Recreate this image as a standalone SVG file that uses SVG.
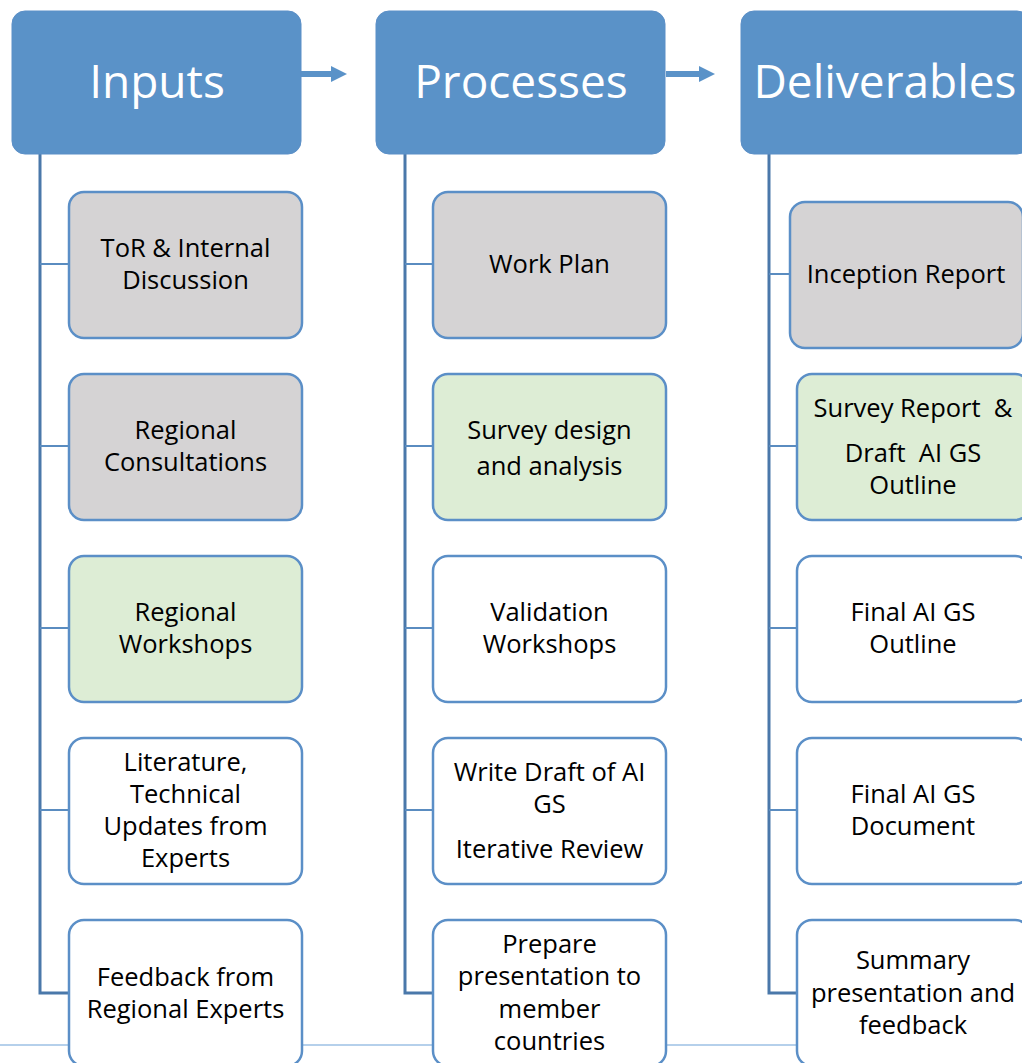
<svg xmlns="http://www.w3.org/2000/svg" width="1022" height="1063" viewBox="0 0 1022 1063">
<defs>
<style>
.hdr{fill:#5a92c8;stroke:#5b8fc7;stroke-width:1}
.ht{font-family:"Open Sans","Liberation Sans",sans-serif;font-size:46px;fill:#ffffff;text-anchor:middle}
.box{stroke:#5b8fc7;stroke-width:2.5}
.gray{fill:#d5d3d4}
.green{fill:#ddedd5}
.white{fill:#ffffff}
.t{font-family:"Open Sans","Liberation Sans",sans-serif;font-size:25.5px;fill:#000000;text-anchor:middle}
.spine{stroke:#4a78aa;stroke-width:3;fill:none}
.branch{stroke:#5a8cc0;stroke-width:2;fill:none}
.arr{fill:#5a92c8}
</style>
</defs>
<rect width="1022" height="1063" fill="#ffffff"/>
<line x1="0" y1="1045" x2="1022" y2="1045" stroke="#9cc0e4" stroke-width="1.5"/>
<g id="connectors">
<polyline class="spine" points="40,154 40,993 69,993"/>
<line class="branch" x1="40" y1="264" x2="69" y2="264"/>
<line class="branch" x1="40" y1="446" x2="69" y2="446"/>
<line class="branch" x1="40" y1="628" x2="69" y2="628"/>
<line class="branch" x1="40" y1="810" x2="69" y2="810"/>
<polyline class="spine" points="405,154 405,993 433,993"/>
<line class="branch" x1="405" y1="264" x2="433" y2="264"/>
<line class="branch" x1="405" y1="446" x2="433" y2="446"/>
<line class="branch" x1="405" y1="628" x2="433" y2="628"/>
<line class="branch" x1="405" y1="810" x2="433" y2="810"/>
<polyline class="spine" points="769,154 769,993 797,993"/>
<line class="branch" x1="769" y1="274" x2="790" y2="274"/>
<line class="branch" x1="769" y1="446" x2="797" y2="446"/>
<line class="branch" x1="769" y1="628" x2="797" y2="628"/>
<line class="branch" x1="769" y1="810" x2="797" y2="810"/>
<g id="arrow1"><rect class="arr" x="301" y="71" width="32" height="6"/><polygon class="arr" points="331,66 347,74 331,82"/></g>
<g id="arrow2"><rect class="arr" x="666" y="71" width="34" height="6"/><polygon class="arr" points="699,66 715,74 699,82"/></g>
</g>
<g id="hdr-inputs"><rect class="hdr" x="12" y="11" width="289" height="143" rx="13"/><text class="ht" x="157" y="98">Inputs</text></g>
<g id="hdr-processes"><rect class="hdr" x="376" y="11" width="289" height="143" rx="13"/><text class="ht" x="521" y="98">Processes</text></g>
<g id="hdr-deliverables"><rect class="hdr" x="741" y="11" width="289" height="143" rx="13"/><text class="ht" x="885" y="98">Deliverables</text></g>

<g id="in1"><rect class="box gray" x="69" y="192" width="233" height="146" rx="15"/><text class="t" x="185.5" y="257">ToR &amp; Internal</text><text class="t" x="185.5" y="289">Discussion</text></g>
<g id="in2"><rect class="box gray" x="69" y="374" width="233" height="146" rx="15"/><text class="t" x="185.5" y="439">Regional</text><text class="t" x="185.5" y="471">Consultations</text></g>
<g id="in3"><rect class="box green" x="69" y="556" width="233" height="146" rx="15"/><text class="t" x="185.5" y="621">Regional</text><text class="t" x="185.5" y="653">Workshops</text></g>
<g id="in4"><rect class="box white" x="69" y="738" width="233" height="146" rx="15"/><text class="t" x="185.5" y="771">Literature,</text><text class="t" x="185.5" y="803">Technical</text><text class="t" x="185.5" y="835">Updates from</text><text class="t" x="185.5" y="867">Experts</text></g>
<g id="in5"><rect class="box white" x="69" y="920" width="233" height="146" rx="15"/><text class="t" x="185.5" y="986">Feedback from</text><text class="t" x="185.5" y="1018">Regional Experts</text></g>

<g id="pr1"><rect class="box gray" x="433" y="192" width="233" height="146" rx="15"/><text class="t" x="549.5" y="273">Work Plan</text></g>
<g id="pr2"><rect class="box green" x="433" y="374" width="233" height="146" rx="15"/><text class="t" x="549.5" y="439">Survey design</text><text class="t" x="549.5" y="475">and analysis</text></g>
<g id="pr3"><rect class="box white" x="433" y="556" width="233" height="146" rx="15"/><text class="t" x="549.5" y="621">Validation</text><text class="t" x="549.5" y="653">Workshops</text></g>
<g id="pr4"><rect class="box white" x="433" y="738" width="233" height="146" rx="15"/><text class="t" x="549.5" y="781">Write Draft of AI</text><text class="t" x="549.5" y="813">GS</text><text class="t" x="549.5" y="858">Iterative Review</text></g>
<g id="pr5"><rect class="box white" x="433" y="920" width="233" height="146" rx="15"/><text class="t" x="549.5" y="953">Prepare</text><text class="t" x="549.5" y="985">presentation to</text><text class="t" x="549.5" y="1018">member</text><text class="t" x="549.5" y="1050">countries</text></g>

<g id="de1"><rect class="box gray" x="790" y="202" width="233" height="146" rx="15"/><text class="t" x="906" y="283">Inception Report</text></g>
<g id="de2"><rect class="box green" x="797" y="374" width="233" height="146" rx="15"/><text class="t" x="913" y="417" xml:space="preserve">Survey Report  &amp;</text><text class="t" x="913" y="462" xml:space="preserve">Draft  AI GS</text><text class="t" x="913" y="494">Outline</text></g>
<g id="de3"><rect class="box white" x="797" y="556" width="233" height="146" rx="15"/><text class="t" x="913" y="621">Final AI GS</text><text class="t" x="913" y="653">Outline</text></g>
<g id="de4"><rect class="box white" x="797" y="738" width="233" height="146" rx="15"/><text class="t" x="913" y="803">Final AI GS</text><text class="t" x="913" y="835">Document</text></g>
<g id="de5"><rect class="box white" x="797" y="920" width="233" height="146" rx="15"/><text class="t" x="913" y="969">Summary</text><text class="t" x="913" y="1002">presentation and</text><text class="t" x="913" y="1034">feedback</text></g>
</svg>
